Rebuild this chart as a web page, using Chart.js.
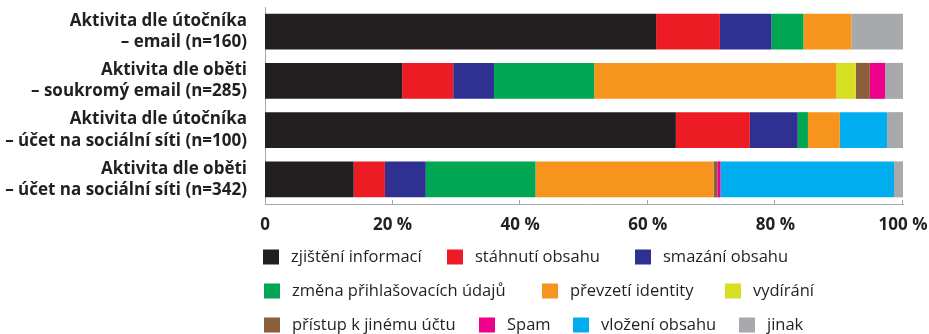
<!DOCTYPE html>
<html lang="cs">
<head>
<meta charset="utf-8">
<script src="https://cdn.jsdelivr.net/npm/chart.js@4.4.1/dist/chart.umd.min.js"></script>
<style>
  html, body { margin: 0; padding: 0; background: #fff; }
</style>
</head>
<body>
<canvas id="chart" width="929" height="334"></canvas>
<script>
// Skupiny (řádky grafu)
const groups = [
    ['Aktivita dle útočníka', '– email (n=160)'],
    ['Aktivita dle oběti', '– soukromý email (n=285)'],
    ['Aktivita dle útočníka', '– účet na sociální síti (n=100)'],
    ['Aktivita dle oběti', '– účet na sociální síti (n=342)']
];

// Typy aktivit
const activities = [
    'zjištění informací', 'stáhnutí obsahu', 'smazání obsahu',
    'změna přihlašovacích údajů', 'převzetí identity', 'vydírání',
    'přístup k jinému účtu', 'Spam', 'vložení obsahu', 'jinak'
];
const colors = [
    '#231f20', '#ed1c24', '#2e3192', '#00a651', '#f7941d',
    '#d7df23', '#8b5e3c', '#ec008c', '#00aeef', '#a7a9ac'
];

// Podíl v % pro každou skupinu
const zjisteni  = [61.3, 21.5, 64.4, 13.9];
const stahnuti  = [10.0,  8.0, 11.6,  4.9];
const smazani   = [ 8.1,  6.4,  7.5,  6.4];
const zmena     = [ 5.0, 15.7,  1.6, 17.2];
const prevzeti  = [ 7.5, 37.9,  5.0, 27.9];
const vydirani  = [ 0,    3.1,  0,    0  ];
const pristup   = [ 0,    2.2,  0,    0.6];
const spam      = [ 0,    2.4,  0,    0.5];
const vlozeni   = [ 0,    0,    7.4, 27.2];
const jinak     = [ 8.1,  2.8,  2.5,  1.4];
const series = [zjisteni, stahnuti, smazani, zmena, prevzeti, vydirani, pristup, spam, vlozeni, jinak];

const xTicks = [0, 20, 40, 60, 80, 100];

// rozmístění legendy: [x čtverečku, y středu řádku]
const legendPos = [
    [263, 257], [447, 257], [635, 257],
    [264, 291], [542, 291], [725, 291],
    [264, 325], [479, 325], [573, 325], [739, 325]
];

const textColor = '#231f20';
const axisColor = '#a7a9ac';

// malé zářezy osy x směrem nahoru
const upTicks = {
    id: 'upTicks',
    afterDraw(chart) {
        const ctx = chart.ctx;
        const x = chart.scales.x;
        const bottom = chart.chartArea.bottom;
        ctx.save();
        ctx.strokeStyle = axisColor;
        ctx.lineWidth = 1;
        xTicks.forEach(v => {
            if (v === 0) return;
            const px = Math.round(x.getPixelForValue(v)) - 0.5;
            ctx.beginPath();
            ctx.moveTo(px, bottom - 4);
            ctx.lineTo(px, bottom);
            ctx.stroke();
        });
        ctx.restore();
    }
};

// legenda pod grafem
const legendBoxes = {
    id: 'legendBoxes',
    afterDraw(chart) {
        const ctx = chart.ctx;
        ctx.save();
        ctx.font = '16.5px "Open Sans"';
        ctx.textBaseline = 'middle';
        ctx.textAlign = 'left';
        chart.data.datasets.forEach((ds, i) => {
            const [lx, ly] = legendPos[i];
            ctx.fillStyle = ds.backgroundColor;
            ctx.fillRect(lx, ly - 7.5, 16, 15);
            ctx.fillStyle = textColor;
            ctx.fillText(ds.label, lx + 28, ly);
        });
        ctx.restore();
    }
};

function draw() {
    Chart.defaults.font.family = '"Open Sans", sans-serif';
    Chart.defaults.color = textColor;

    new Chart(document.getElementById('chart'), {
        type: 'bar',
        data: {
            labels: groups,
            datasets: activities.map((name, i) => ({
                label: name,
                data: series[i],
                backgroundColor: colors[i],
                borderWidth: 0,
                barPercentage: 1,
                categoryPercentage: 0.73
            }))
        },
        options: {
            indexAxis: 'y',
            responsive: false,
            animation: false,
            layout: { padding: { top: 7, right: 26, bottom: 100, left: 0 } },
            plugins: {
                legend: { display: false },
                tooltip: { enabled: false }
            },
            scales: {
                x: {
                    stacked: true,
                    min: 0,
                    max: 100,
                    grid: { display: false, drawTicks: false },
                    border: { color: axisColor, width: 1 },
                    afterFit(s) {
                        s.height = 30;
                        s.paddingLeft = 0;
                        s.paddingRight = 0;
                    },
                    afterBuildTicks(s) { s.ticks = xTicks.map(v => ({ value: v })); },
                    ticks: {
                        padding: 11,
                        color: textColor,
                        autoSkip: false,
                        maxRotation: 0,
                        font: { size: 17, weight: 'bold' },
                        callback: v => v === 0 ? '0' : v + ' %'
                    }
                },
                y: {
                    stacked: true,
                    grid: { display: false, drawTicks: false },
                    border: { color: axisColor, width: 1 },
                    afterFit(s) {
                        s.width = 265;
                        s.paddingTop = 0;
                        s.paddingBottom = 0;
                    },
                    ticks: {
                        padding: 18,
                        color: textColor,
                        autoSkip: false,
                        font: { size: 17, weight: 'bold', lineHeight: 1.24 }
                    }
                }
            }
        },
        plugins: [upTicks, legendBoxes]
    });
}

Promise.all([
    document.fonts.load('bold 17px "Open Sans"'),
    document.fonts.load('16.5px "Open Sans"')
]).then(draw, draw);
</script>
</body>
</html>
